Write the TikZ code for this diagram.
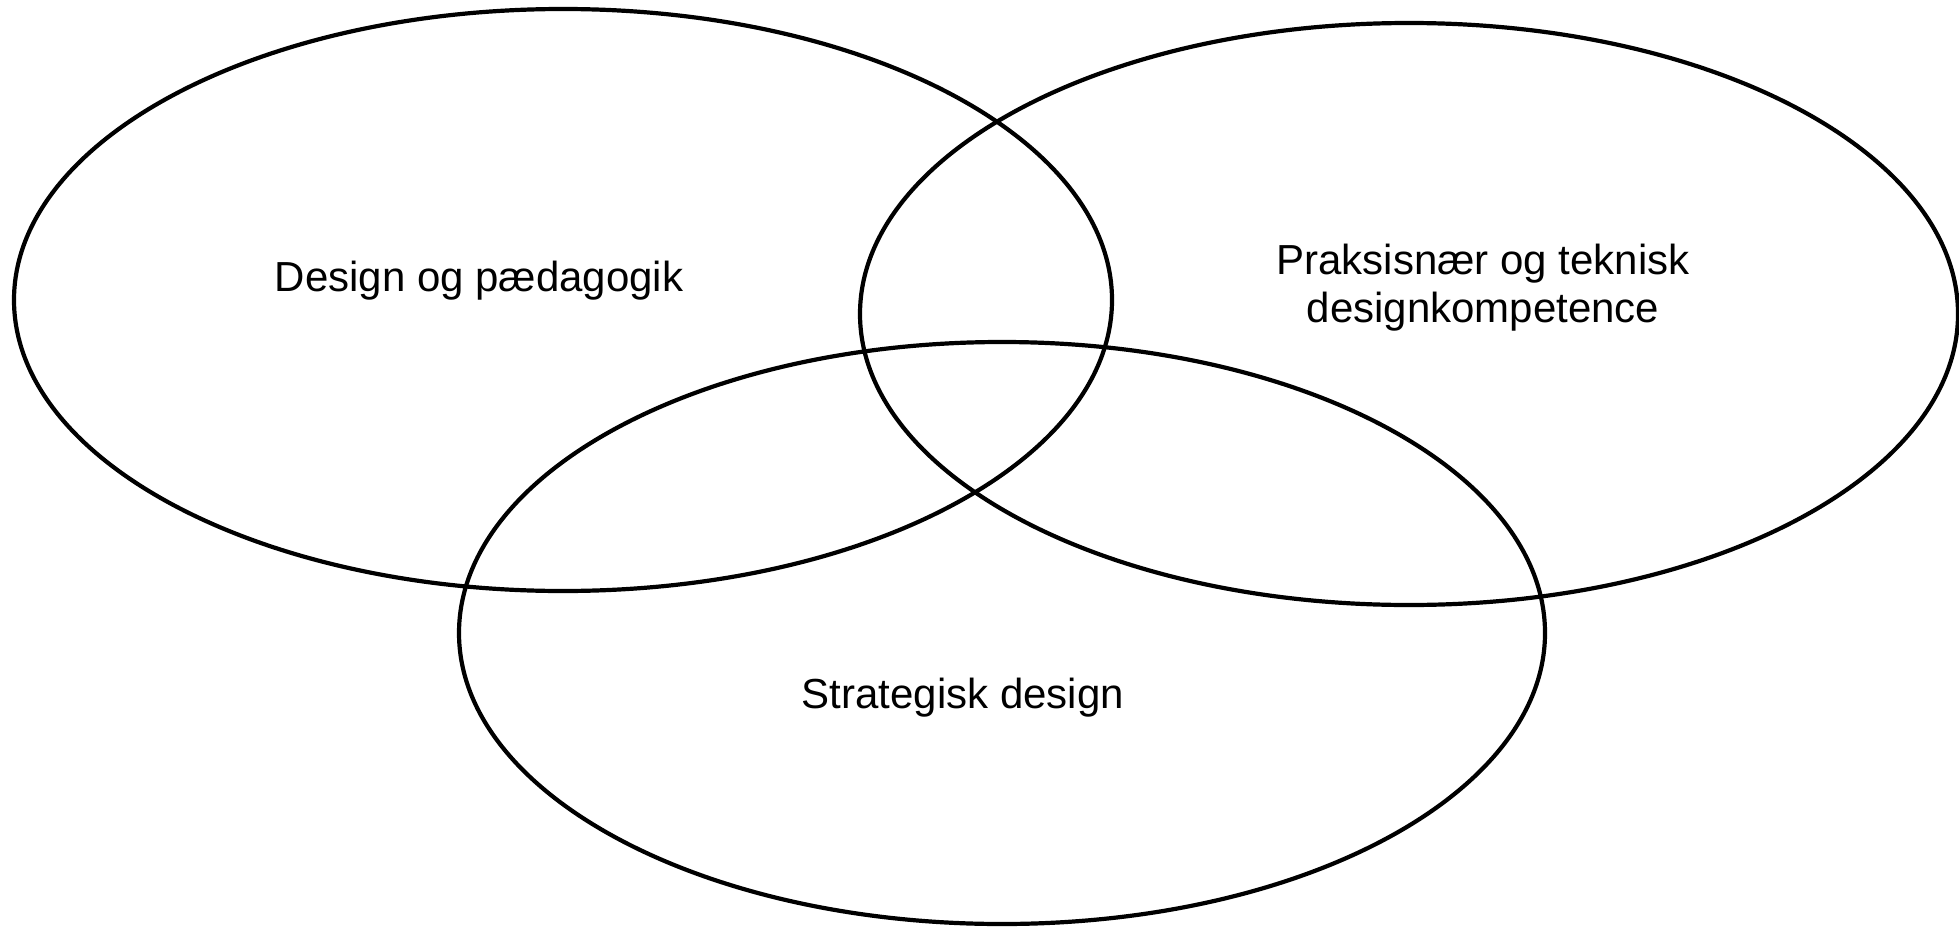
\documentclass[tikz,border=0pt]{standalone}
\usepackage{fontspec}
\setmainfont{Liberation Sans}
\usetikzlibrary{shapes.geometric}
\tikzset{
  ring/.style={draw, ellipse, line width=2.1pt, inner sep=0pt, minimum width=549pt, minimum height=291pt},
  lbl/.style={font=\fontsize{21}{24}\selectfont, align=center, inner sep=0pt, anchor=base}
}

\begin{document}
\begin{tikzpicture}[x=0.5pt, y=-0.5pt]
\useasboundingbox (0,0) rectangle (1959,926);
% the three areas
\node[ring] (ped) at (563,300) {};
\node[ring] (prak) at (1409,314) {};
\node[ring, minimum width=543pt] (strat) at (1002,633) {};
% labels
\node[lbl] (pedtxt) at (479,291) {Design og pædagogik};
\node[lbl] (praktxt) at (1483,322) {Praksisnær og teknisk\\designkompetence};
\node[lbl] (strattxt) at (963,708) {Strategisk design};
\end{tikzpicture}
\end{document}
